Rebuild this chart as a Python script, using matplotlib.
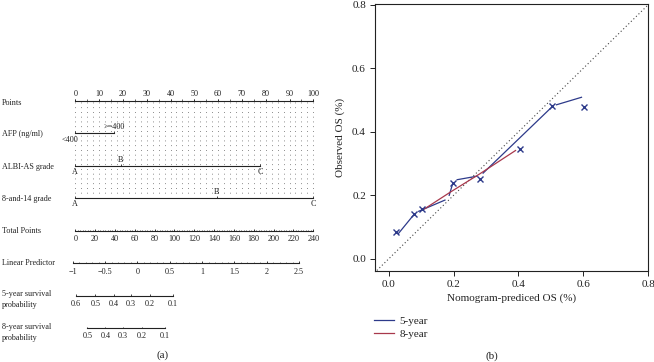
import matplotlib
matplotlib.use('Agg')
import matplotlib.pyplot as plt
import numpy as np

plt.rcParams['font.family'] = ['Liberation Serif', 'DejaVu Serif']

# ---------------- Nomogram (a) data ----------------
points_ticks = list(range(0, 101, 10))
afp_levels = ['<400', '>=400']
afp_points = [0.0, 16.4]
albi_levels = ['A', 'B', 'C']
albi_points = [0.0, 19.0, 77.6]
g814_levels = ['A', 'B', 'C']
g814_points = [0.0, 59.4, 100.0]
total_ticks = list(range(0, 241, 20))
total_max = 240
lp_ticks = [-1, -0.5, 0, 0.5, 1, 1.5, 2, 2.5]
lp_tick_labels = ['\u22121', '\u22120.5', '0', '0.5', '1', '1.5', '2', '2.5']
lp_at_zero_total = -0.960
lp_per_total = 1 / 65.24
surv5_ticks = [0.6, 0.5, 0.4, 0.3, 0.2, 0.1]
surv8_ticks = [0.5, 0.4, 0.3, 0.2, 0.1]
surv5_offset = 0.282   # log(-log S) = offset + LP
surv8_offset = 0.407

# ---------------- Calibration (b) data ----------------
cal5_line_x = [0.022, 0.082, 0.183, 0.200, 0.283, 0.507, 0.605]
cal5_line_y = [0.070, 0.145, 0.189, 0.247, 0.262, 0.482, 0.512]
cal5_pts_x = [0.021, 0.077, 0.101, 0.198, 0.280, 0.504, 0.603]
cal5_pts_y = [0.083, 0.140, 0.158, 0.240, 0.252, 0.482, 0.479]
cal8_line_x = [0.110, 0.190, 0.280, 0.391]
cal8_line_y = [0.157, 0.210, 0.267, 0.341]
cal8_pts_x = [0.406]
cal8_pts_y = [0.345]
cal_ticks = [0.0, 0.2, 0.4, 0.6, 0.8]

BLUE = '#2d3a8a'
RED = '#a8384c'
DARK = '#222222'

W, H = 654, 362
fig = plt.figure(figsize=(W / 100, H / 100), dpi=100)

# ======================= Nomogram =======================
axn = fig.add_axes([0, 0, 330 / W, 1])
px_per_pt = 2.38
x0_px = 75.3
axn.set_xlim(-x0_px / px_per_pt, (330 - x0_px) / px_per_pt)
axn.set_ylim(H, 0)
axn.axis('off')

FS = 5.9
lw_axis = 0.8


def tp_to_pts(tp):
    return np.asarray(tp, dtype=float) * 100.0 / total_max


def lp_to_pts(lp):
    tp = (np.asarray(lp, dtype=float) - lp_at_zero_total) / lp_per_total
    return tp_to_pts(tp)


def surv_to_pts(s, off):
    s = np.asarray(s, dtype=float)
    lp = np.log(-np.log(s)) - off
    return lp_to_pts(lp)


def row_label(y, text):
    axn.text(-x0_px / px_per_pt + 2 / px_per_pt, y, text, ha='left', va='center',
             fontsize=FS, color=DARK, linespacing=1.5)


def tick_marks(xs, y, length=2.0, lw=0.6):
    for x in xs:
        axn.plot([x, x], [y, y - length], color=DARK, lw=lw, solid_capstyle='butt')


# grid (dotted)
for v in np.arange(0, 100.01, 2.5):
    axn.plot([v, v], [101.5, 197.0], color='#666666', lw=0.6,
             linestyle=(0, (1, 4.7)))

# Points
y_pts = 100.7
row_label(102.7, 'Points')
axn.plot([0, 100], [y_pts, y_pts], color=DARK, lw=lw_axis)
tick_marks(points_ticks, y_pts, 2.2)
tick_marks(np.arange(0, 100.01, 5), y_pts, 1.4, 0.5)
for t in points_ticks:
    axn.text(t, 94.5, str(t), ha='center', va='center', fontsize=FS, color=DARK)

# AFP
y_afp = 132.7
row_label(134.3, 'AFP (ng/ml)')
axn.plot([afp_points[0], afp_points[-1]], [y_afp, y_afp], color=DARK, lw=lw_axis)
tick_marks(afp_points, y_afp, 1.8)
axn.text(afp_points[0] + 1.4, y_afp + 7.3, afp_levels[0], ha='right', va='center',
         fontsize=FS, color=DARK)
axn.text(afp_points[1], y_afp - 5.6, afp_levels[1], ha='center', va='center',
         fontsize=FS, color=DARK)

# ALBI-AS grade
y_albi = 166.0
row_label(167.3, 'ALBI-AS grade')
axn.plot([albi_points[0], albi_points[-1]], [y_albi, y_albi], color=DARK, lw=lw_axis)
tick_marks(albi_points, y_albi, 1.8)
for i, (lv, p) in enumerate(zip(albi_levels, albi_points)):
    dy = -6.0 if i % 2 == 1 else 6.0
    axn.text(p, y_albi + dy, lv, ha='center', va='center', fontsize=FS, color=DARK)

# 8-and-14 grade
y_814 = 197.7
row_label(199.0, '8-and-14 grade')
axn.plot([g814_points[0], g814_points[-1]], [y_814, y_814], color=DARK, lw=lw_axis)
tick_marks(g814_points, y_814, 1.8)
for i, (lv, p) in enumerate(zip(g814_levels, g814_points)):
    dy = -6.0 if i % 2 == 1 else 6.3
    axn.text(p, y_814 + dy, lv, ha='center', va='center', fontsize=FS, color=DARK)

# Total points
y_tot = 231.0
row_label(230.7, 'Total Points')
axn.plot([0, 100], [y_tot, y_tot], color=DARK, lw=lw_axis)
tick_marks(tp_to_pts(np.arange(0, total_max + 0.01, 2.5)), y_tot, 1.3, 0.5)
tick_marks(tp_to_pts(total_ticks), y_tot, 1.8)
for t in total_ticks:
    axn.text(tp_to_pts(t), 239.0, str(t), ha='center', va='center', fontsize=FS, color=DARK)

# Linear predictor
y_lp = 262.7
row_label(263.3, 'Linear Predictor')
lpx = lp_to_pts(lp_ticks)
axn.plot([lpx[0], lpx[-1]], [y_lp, y_lp], color=DARK, lw=lw_axis)
tick_marks(lpx, y_lp, 1.8)
tick_marks(lp_to_pts(np.arange(-1, 2.51, 0.1)), y_lp, 1.0, 0.4)
for x, lab in zip(lpx, lp_tick_labels):
    axn.text(x, 271.7, lab, ha='center', va='center', fontsize=FS, color=DARK)

# 5-year survival
y_s5 = 296.0
row_label(299.3, '5-year survival\nprobability')
s5x = surv_to_pts(surv5_ticks, surv5_offset)
axn.plot([s5x[0], s5x[-1]], [y_s5, y_s5], color=DARK, lw=lw_axis)
tick_marks(s5x, y_s5, 1.8)
for x, s in zip(s5x, surv5_ticks):
    axn.text(x, 303.5, f'{s:.1f}', ha='center', va='center', fontsize=FS, color=DARK)

# 8-year survival
y_s8 = 328.3
row_label(332.5, '8-year survival\nprobability')
s8x = surv_to_pts(surv8_ticks, surv8_offset)
axn.plot([s8x[0], s8x[-1]], [y_s8, y_s8], color=DARK, lw=lw_axis)
tick_marks(s8x, y_s8, 1.8)
for x, s in zip(s8x, surv8_ticks):
    axn.text(x, 336.0, f'{s:.1f}', ha='center', va='center', fontsize=FS, color=DARK)

axn.text((163 - x0_px) / px_per_pt, 355.5, '(a)', ha='center', va='center',
         fontsize=8, color=DARK)

# ======================= Calibration =======================
axc = fig.add_axes([375 / W, 1 - 271 / H, (648 - 375) / W, (271 - 4) / H])
axc.set_xlim(-0.043, 0.8)
axc.set_ylim(-0.039, 0.803)
axc.set_xticks(cal_ticks)
axc.set_yticks(cal_ticks)
axc.set_xticklabels([f'{t:.1f}' for t in cal_ticks])
axc.set_yticklabels([f'{t:.1f}' for t in cal_ticks])
axc.tick_params(direction='out', length=3.5, width=0.7, labelsize=8,
                colors=DARK, pad=3)
for s in axc.spines.values():
    s.set_linewidth(0.8)
    s.set_color(DARK)
axc.set_xlabel('Nomogram-prediced OS (%)', fontsize=8, color=DARK, labelpad=3)
axc.set_ylabel('Observed OS (%)', fontsize=8, color=DARK, labelpad=5)

axc.plot([-0.1, 0.9], [-0.1, 0.9], color='#444444', lw=0.8, linestyle=(0, (1, 2.2)))


def gapped_line(ax, xs, ys, gap_px, **kw):
    tr = ax.transData
    pts = tr.transform(np.column_stack([xs, ys]))
    inv = tr.inverted()
    for i in range(len(pts) - 1):
        p0, p1 = pts[i], pts[i + 1]
        d = p1 - p0
        L = np.hypot(d[0], d[1])
        if L <= 2 * gap_px:
            continue
        u = d / L
        seg = inv.transform(np.array([p0 + u * gap_px, p1 - u * gap_px]))
        ax.plot(seg[:, 0], seg[:, 1], **kw)


gapped_line(axc, cal5_line_x, cal5_line_y, 3.5, color=BLUE, lw=0.9)
axc.plot(cal8_line_x, cal8_line_y, color=RED, lw=0.9)
axc.plot(cal5_pts_x, cal5_pts_y, linestyle='none', marker='x', ms=4, mew=1.0, color=BLUE)
axc.plot(cal8_pts_x, cal8_pts_y, linestyle='none', marker='x', ms=4, mew=1.0, color=BLUE)

h5, = axc.plot([], [], color=BLUE, lw=0.9, label='5-year')
h8, = axc.plot([], [], color=RED, lw=0.9, label='8-year')
leg = fig.legend(handles=[h5, h8], loc='upper left',
                 bbox_to_anchor=(372 / W, 1 - 314 / H), frameon=False,
                 fontsize=8, handlelength=1.75, handletextpad=0.5,
                 labelspacing=0.25, borderaxespad=0, borderpad=0.2)
for t in leg.get_texts():
    t.set_color(DARK)

fig.text(492 / W, 1 - 356 / H, '(b)', ha='center', va='center', fontsize=8, color=DARK)

fig.savefig('out.png', dpi=100)
